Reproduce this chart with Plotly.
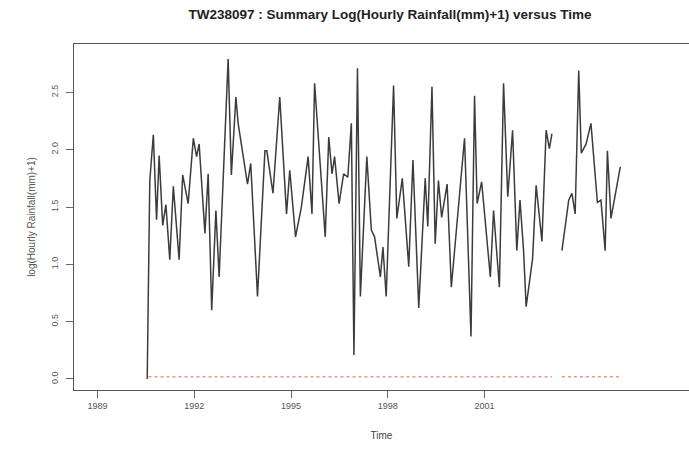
import plotly.graph_objects as go

# Summary series: decimal year vs log(hourly rainfall (mm) + 1)
times = [
    1990.54, 1990.62, 1990.73, 1990.83, 1990.91, 1991.02, 1991.12, 1991.24, 1991.35, 1991.53,
    1991.64, 1991.81, 1991.97, 1992.07, 1992.15, 1992.33, 1992.43, 1992.54, 1992.67, 1992.77,
    1993.05, 1993.15, 1993.29, 1993.36, 1993.65, 1993.75, 1993.96, 1994.19, 1994.25, 1994.44,
    1994.65, 1994.86, 1994.96, 1995.14, 1995.32, 1995.53, 1995.65, 1995.73, 1996.06, 1996.17,
    1996.27, 1996.35, 1996.49, 1996.63, 1996.76, 1996.87, 1996.95, 1997.06, 1997.15, 1997.35,
    1997.49, 1997.59, 1997.77, 1997.85, 1997.95, 1998.18, 1998.28, 1998.45, 1998.65, 1998.78,
    1998.96, 1999.16, 1999.24, 1999.37, 1999.47, 1999.57, 1999.67, 1999.84, 1999.97, 2000.22,
    2000.38, 2000.58, 2000.69, 2000.77, 2000.91, 2001.18, 2001.28, 2001.46, 2001.59, 2001.72,
    2001.87, 2002.00, 2002.10, 2002.21, 2002.29, 2002.49, 2002.60, 2002.78, 2002.91, 2003.01,
    2003.09, 2003.25, 2003.40, 2003.61, 2003.71, 2003.81, 2003.92, 2004.00, 2004.15, 2004.30,
    2004.50, 2004.61, 2004.74, 2004.81, 2004.92, 2005.21,
]
log_rain = [
    0.00, 1.73, 2.13, 1.39, 1.95, 1.34, 1.52, 1.04, 1.68, 1.04,
    1.78, 1.53, 2.10, 1.94, 2.05, 1.27, 1.79, 0.60, 1.47, 0.89,
    2.79, 1.78, 2.46, 2.23, 1.70, 1.88, 0.72, 1.99, 1.99, 1.62,
    2.46, 1.44, 1.82, 1.24, 1.50, 1.94, 1.44, 2.58, 1.24, 2.11,
    1.79, 1.94, 1.53, 1.79, 1.76, 2.23, 0.21, 2.71, 0.72, 1.94,
    1.30, 1.24, 0.89, 1.15, 0.72, 2.56, 1.40, 1.75, 0.98, 1.91,
    0.62, 1.75, 1.33, 2.55, 1.18, 1.73, 1.41, 1.70, 0.80, 1.56,
    2.10, 0.37, 2.47, 1.53, 1.72, 0.89, 1.47, 0.80, 2.58, 1.59,
    2.17, 1.12, 1.56, 1.12, 0.63, 1.05, 1.69, 1.20, 2.17, 2.01,
    2.14, None, 1.12, 1.56, 1.62, 1.44, 2.69, 1.97, 2.05, 2.23,
    1.54, 1.56, 1.12, 1.99, 1.40, 1.85,
]

# Lower summary line near zero
low_times = [1990.58, 2003.09, 2003.25, 2003.40, 2005.21]
low_values = [0.02, 0.02, None, 0.02, 0.02]

x_ticks = [1989, 1992, 1995, 1998, 2001]
y_ticks = [0.0, 0.5, 1.0, 1.5, 2.0, 2.5]

fig = go.Figure()
fig.add_trace(go.Scatter(
    x=low_times, y=low_values, mode="lines", connectgaps=False,
    line=dict(color="#eb9a86", width=1.4, dash="dot"), hoverinfo="skip",
))
fig.add_trace(go.Scatter(
    x=times, y=log_rain, mode="lines", connectgaps=False,
    line=dict(color="#3c3c3c", width=1.5),
))

font_family = "Liberation Sans, Arial, sans-serif"
fig.update_layout(
    width=689, height=456,
    margin=dict(l=74, r=0, t=44, b=66),
    paper_bgcolor="white", plot_bgcolor="white",
    showlegend=False,
    font=dict(family=font_family, color="#555555", size=9),
    title=dict(
        text="<b>TW238097 : Summary Log(Hourly Rainfall(mm)+1) versus Time</b>",
        x=390 / 689, xanchor="center", y=1 - 14 / 456, yanchor="middle",
        font=dict(family=font_family, size=13.5, color="#222222"),
    ),
)
fig.update_xaxes(
    range=[1988.27, 2007.34], tickvals=x_ticks, ticktext=[str(v) for v in x_ticks],
    showgrid=False, zeroline=False, showline=True, linecolor="#555555", linewidth=1,
    mirror=True, ticks="outside", ticklen=7, tickcolor="#666666",
    title=dict(text="Time", font=dict(size=10, color="#444444"), standoff=22),
)
fig.update_yaxes(
    range=[-0.096, 2.922], tickvals=y_ticks, ticktext=[f"{v:.1f}" for v in y_ticks],
    tickangle=-90, showgrid=False, zeroline=False, showline=True,
    linecolor="#555555", linewidth=1, mirror=False,
    ticks="outside", ticklen=7, tickcolor="#666666", ticklabelstandoff=4,
    title=dict(text="log(Hourly Rainfall(mm)+1)", font=dict(size=10, color="#555555"), standoff=12),
)

fig.write_html("out.html")
